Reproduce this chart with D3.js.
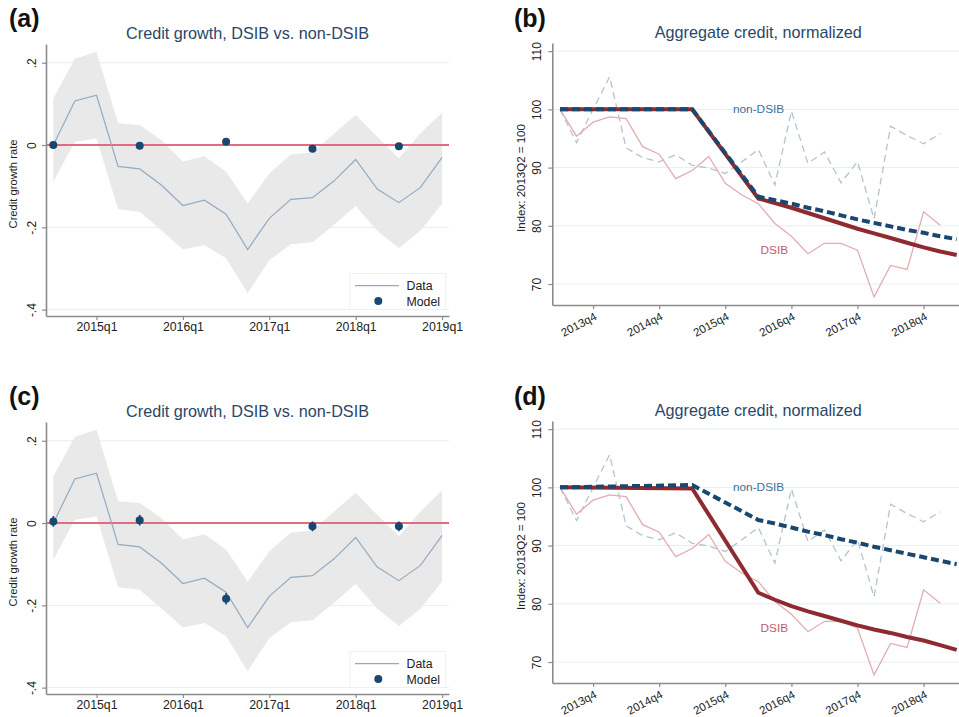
<!DOCTYPE html>
<html>
<head>
<meta charset="utf-8">
<script src="https://cdn.jsdelivr.net/npm/d3@7"></script>
<style>
  body { margin: 0; background: #fff; }
  svg { display: block; font-family: "Liberation Sans", Arial, Helvetica, sans-serif; }
</style>
</head>
<body>
<svg id="chart" width="959" height="717"></svg>
<script>
// ---- Credit growth, DSIB vs. non-DSIB (panels a, c) ----
const growthQuarters = ["2014q3","2014q4","2015q1","2015q2","2015q3","2015q4","2016q1","2016q2","2016q3","2016q4",
                        "2017q1","2017q2","2017q3","2017q4","2018q1","2018q2","2018q3","2018q4","2019q1"];
const growthData  = [0.000, 0.107, 0.121, -0.052, -0.058, -0.097, -0.147, -0.134, -0.168, -0.254,
                     -0.178, -0.132, -0.128, -0.087, -0.035, -0.107, -0.140, -0.103, -0.030];
const growthUpper = [0.113, 0.210, 0.227, 0.053, 0.049, 0.012, -0.040, -0.027, -0.065, -0.142,
                     -0.069, -0.023, -0.018, 0.028, 0.073, 0.020, -0.032, 0.028, 0.079];
const growthLower = [-0.089, 0.008, 0.016, -0.156, -0.162, -0.207, -0.254, -0.243, -0.275, -0.360,
                     -0.280, -0.241, -0.236, -0.194, -0.148, -0.208, -0.250, -0.208, -0.142];
const growthModelQuarters = ["2014q3","2015q3","2016q3","2017q3","2018q3"];
const growthModelA = [0.000, -0.002, 0.008, -0.009, -0.003];
const growthModelC = [0.004, 0.007, -0.184, -0.008, -0.008];
const growthModelCErr = [0.013, 0.013, 0.014, 0.012, 0.012];
const growthXTicks = ["2015q1","2016q1","2017q1","2018q1","2019q1"];
const growthYTicks = [0.2, 0, -0.2, -0.4];
const growthYTickLabels = [".2", "0", "-.2", "-.4"];

// ---- Aggregate credit, normalized (panels b, d) ----
const creditQuarters = ["2013q2","2013q3","2013q4","2014q1","2014q2","2014q3","2014q4","2015q1","2015q2","2015q3",
                        "2015q4","2016q1","2016q2","2016q3","2016q4","2017q1","2017q2","2017q3","2017q4","2018q1",
                        "2018q2","2018q3","2018q4","2019q1"];
const dsibData    = [100, 95.4, 97.8, 98.7, 98.4, 93.6, 92.3, 88.1, 89.5, 91.9,
                     87.3, 85.3, 83.8, 80.4, 78.2, 75.2, 77.0, 77.0, 75.8, 67.8,
                     73.2, 72.5, 82.4, 80.1];
const nonDsibData = [100, 94.3, 100.0, 105.6, 93.4, 91.7, 91.0, 92.2, 90.4, 89.9,
                     89.0, 91.0, 93.1, 87.0, 99.7, 90.7, 92.7, 87.4, 91.0, 81.2,
                     97.1, 95.5, 94.1, 95.8];
const creditModelQuarters = ["2013q2","2015q2","2016q2","2016q3","2016q4","2017q1","2017q2","2017q3",
                             "2017q4","2018q1","2018q2","2018q3","2018q4","2019q1","2019q2"];
const dsibModelB    = [100, 100, 84.7, 83.9, 83.1, 82.2, 81.3, 80.4, 79.5, 78.7, 77.9, 77.1, 76.3, 75.6, 75.0];
const nonDsibModelB = [100, 100, 85.0, 84.4, 83.8, 83.1, 82.5, 81.8, 81.1, 80.5, 79.9, 79.3, 78.8, 78.2, 77.7];
const dsibModelD    = [100, 99.8, 81.9, 80.7, 79.6, 78.7, 77.9, 77.1, 76.3, 75.6, 75.0, 74.3, 73.7, 72.9, 72.1];
const nonDsibModelD = [100, 100.4, 94.4, 93.8, 93.1, 92.4, 91.8, 91.1, 90.5, 89.8, 89.2, 88.6, 88.0, 87.4, 86.8];
const creditXTicks = ["2013q4","2014q4","2015q4","2016q4","2017q4","2018q4"];
const creditYTicks = [110, 100, 90, 80, 70];

// ---- styling ----
const C = {
  title: "#2a4669", axis: "#8c8c8c", grid: "#e4eef1", text: "#222",
  band: "#e9e9e9", dataLine: "#93aac2", zero: "#e26a83", model: "#1a476f",
  dsibThick: "#8e2b30", nonThick: "#1a476f", dsibThin: "#e2adb2", nonThin: "#b4c3d1",
  dsibLabel: "#bf5a65", nonLabel: "#3f6f9c"
};
const svg = d3.select("#chart");
const qNum = q => +q.slice(0, 4) + (+q.slice(5) - 1) / 4;

function panelLabel(txt, x, y) {
  svg.append("text").attr("x", x).attr("y", y).attr("font-size", 25).attr("font-weight", "bold")
    .attr("fill", "#111").text(txt);
}
function title(txt, cx, y) {
  svg.append("text").attr("x", cx).attr("y", y).attr("text-anchor", "middle")
    .attr("font-size", 16.2).attr("fill", C.title).text(txt);
}
function styleAxis(g) {
  g.select(".domain").attr("stroke", C.axis).attr("stroke-width", 1.6);
  g.selectAll(".tick line").attr("stroke", C.axis).attr("stroke-width", 1.2);
  g.selectAll(".tick text").attr("fill", C.text).attr("font-family", null);
}

function drawGrowth(dy, label, modelVals, modelErr) {
  const g = svg.append("g").attr("transform", `translate(0,${dy})`);
  const x = d3.scaleLinear().domain([2014.4155, 2019.08]).range([46, 449]);
  const y = d3.scaleLinear().domain([-0.4155, 0.2456]).range([316, 44]);

  // grid lines (zero is drawn separately)
  g.selectAll("line.grid").data(growthYTicks.filter(v => v !== 0)).join("line")
    .attr("x1", 46).attr("x2", 449).attr("y1", d => y(d)).attr("y2", d => y(d))
    .attr("stroke", C.grid).attr("stroke-width", 1);

  // confidence band
  const rows = growthQuarters.map((q, i) => ({ t: qNum(q), v: growthData[i], lo: growthLower[i], hi: growthUpper[i] }));
  g.append("path").datum(rows)
    .attr("d", d3.area().x(d => x(d.t)).y0(d => y(d.lo)).y1(d => y(d.hi)))
    .attr("fill", C.band);

  // zero line
  g.append("line").attr("x1", 46).attr("x2", 449).attr("y1", y(0)).attr("y2", y(0))
    .attr("stroke", C.zero).attr("stroke-width", 2);

  // data line
  g.append("path").datum(rows)
    .attr("d", d3.line().x(d => x(d.t)).y(d => y(d.v)))
    .attr("fill", "none").attr("stroke", C.dataLine).attr("stroke-width", 1.2);

  // model points
  const pts = growthModelQuarters.map((q, i) => ({ t: qNum(q), v: modelVals[i], e: modelErr ? modelErr[i] : 0 }));
  if (modelErr) {
    g.selectAll("line.err").data(pts).join("line")
      .attr("x1", d => x(d.t)).attr("x2", d => x(d.t))
      .attr("y1", d => y(d.v + d.e)).attr("y2", d => y(d.v - d.e))
      .attr("stroke", C.model).attr("stroke-width", 1.6);
  }
  g.selectAll("circle.model").data(pts).join("circle")
    .attr("cx", d => x(d.t)).attr("cy", d => y(d.v)).attr("r", 4)
    .attr("fill", C.model);

  // axes
  const ax = g.append("g").attr("transform", "translate(0,316)")
    .call(d3.axisBottom(x).tickValues(growthXTicks.map(qNum)).tickFormat((d, i) => growthXTicks[i])
      .tickSize(4).tickSizeOuter(0));
  styleAxis(ax);
  ax.selectAll(".tick text").attr("y", 14.5).attr("dy", 0).attr("font-size", 12.3);

  const ay = g.append("g").attr("transform", "translate(46,0)")
    .call(d3.axisLeft(y).tickValues(growthYTicks).tickFormat((d, i) => growthYTickLabels[i])
      .tickSize(4).tickSizeOuter(0));
  styleAxis(ay);
  ay.selectAll(".tick text").attr("x", 0).attr("dy", 0).attr("text-anchor", "middle")
    .attr("transform", "translate(-10,0) rotate(-90)").attr("font-size", 12);

  g.append("text").attr("transform", "translate(16.5,184) rotate(-90)").attr("text-anchor", "middle")
    .attr("font-size", 11.2).attr("fill", C.text).text("Credit growth rate");

  // legend
  const lg = g.append("g");
  lg.append("rect").attr("x", 350).attr("y", 273.5).attr("width", 95.5).attr("height", 36)
    .attr("fill", "#fff").attr("stroke", "#edf1f3").attr("stroke-width", 1);
  lg.append("line").attr("x1", 355).attr("x2", 399).attr("y1", 285.7).attr("y2", 285.7)
    .attr("stroke", C.dataLine).attr("stroke-width", 1.2);
  lg.append("circle").attr("cx", 378.3).attr("cy", 301).attr("r", 4).attr("fill", C.model);
  lg.append("text").attr("x", 406.5).attr("y", 290).attr("font-size", 12.3).attr("fill", C.text).text("Data");
  lg.append("text").attr("x", 406.5).attr("y", 305.5).attr("font-size", 12.3).attr("fill", C.text).text("Model");

  title("Credit growth, DSIB vs. non-DSIB", 247.5, 39 + dy);
  panelLabel(label, 9, 27 + dy);
}

function drawCredit(dy, label, dsibModel, nonModel) {
  const g = svg.append("g").attr("transform", `translate(0,${dy})`);
  const x = d3.scaleLinear().domain([2013.1333, 2019.285]).range([552.3, 959]);
  const y = d3.scaleLinear().domain([66.4, 111.4]).range([305, 43]);

  g.selectAll("line.grid").data(creditYTicks).join("line")
    .attr("x1", 552.3).attr("x2", 959).attr("y1", d => y(d)).attr("y2", d => y(d))
    .attr("stroke", C.grid).attr("stroke-width", 1);

  const line = d3.line().x(d => x(d.t)).y(d => y(d.v));
  const thin = arr => creditQuarters.map((q, i) => ({ t: qNum(q), v: arr[i] }));
  const model = arr => creditModelQuarters.map((q, i) => ({ t: qNum(q), v: arr[i] }));

  g.append("path").datum(thin(nonDsibData)).attr("d", line)
    .attr("fill", "none").attr("stroke", C.nonThin).attr("stroke-width", 1.3).attr("stroke-dasharray", "7,4.5");
  g.append("path").datum(thin(dsibData)).attr("d", line)
    .attr("fill", "none").attr("stroke", C.dsibThin).attr("stroke-width", 1.3);

  g.append("path").datum(model(dsibModel)).attr("d", line)
    .attr("fill", "none").attr("stroke", C.dsibThick).attr("stroke-width", 4).attr("stroke-linejoin", "round");
  g.append("path").datum(model(nonModel)).attr("d", line)
    .attr("fill", "none").attr("stroke", C.nonThick).attr("stroke-width", 4).attr("stroke-dasharray", "8,4");

  g.append("text").attr("x", 733).attr("y", 113).attr("font-size", 11.8).attr("fill", C.nonLabel).text("non-DSIB");
  g.append("text").attr("x", 760.5).attr("y", 254).attr("font-size", 11.8).attr("fill", C.dsibLabel).text("DSIB");

  const ax = g.append("g").attr("transform", "translate(0,305)")
    .call(d3.axisBottom(x).tickValues(creditXTicks.map(qNum)).tickFormat((d, i) => creditXTicks[i])
      .tickSize(4).tickSizeOuter(0));
  styleAxis(ax);
  ax.selectAll(".tick text").attr("x", 0).attr("y", 0).attr("dy", 0).attr("text-anchor", "end")
    .attr("transform", "translate(4,14) rotate(-28)").attr("font-size", 11.5);

  const ay = g.append("g").attr("transform", "translate(552.3,0)")
    .call(d3.axisLeft(y).tickValues(creditYTicks).tickFormat(d3.format("d")).tickSize(4).tickSizeOuter(0));
  styleAxis(ay);
  ay.selectAll(".tick text").attr("x", 0).attr("dy", 0).attr("text-anchor", "middle")
    .attr("transform", "translate(-11,0) rotate(-90)").attr("font-size", 12);

  g.append("text").attr("transform", "translate(525,178) rotate(-90)").attr("text-anchor", "middle")
    .attr("font-size", 11.5).attr("fill", C.text).text("Index: 2013Q2 = 100");

  title("Aggregate credit, normalized", 758.3, 37.5 + dy);
  panelLabel(label, 514, 27 + dy);
}

drawGrowth(0, "(a)", growthModelA, null);
drawCredit(0, "(b)", dsibModelB, nonDsibModelB);
drawGrowth(378, "(c)", growthModelC, growthModelCErr);
drawCredit(378, "(d)", dsibModelD, nonDsibModelD);
</script>
</body>
</html>
